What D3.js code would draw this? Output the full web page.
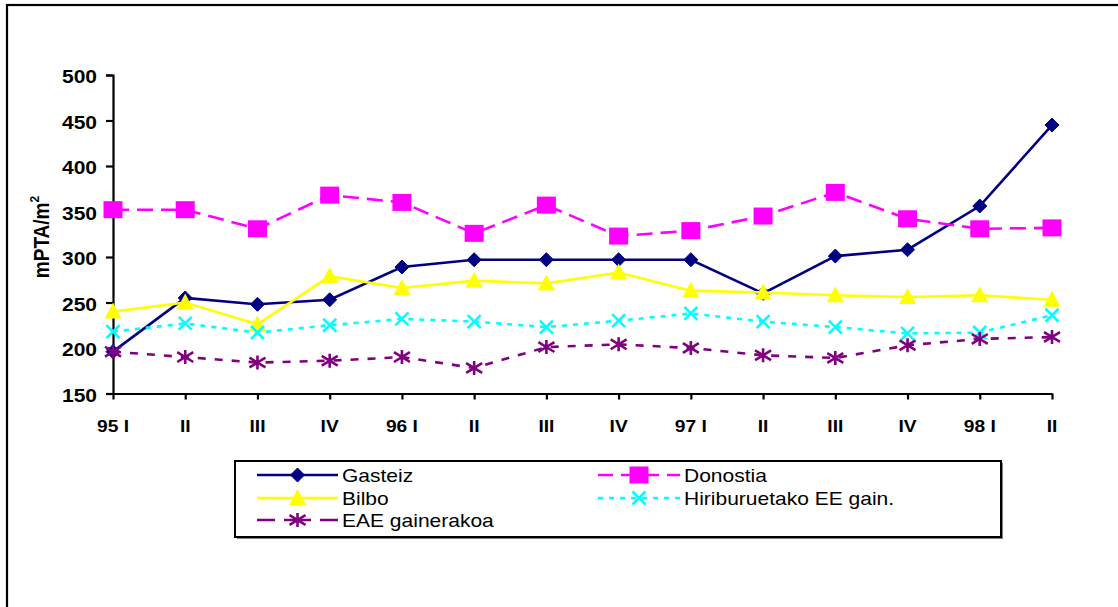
<!DOCTYPE html>
<html>
<head>
<meta charset="utf-8">
<script src="https://cdn.jsdelivr.net/npm/d3@7"></script>
<style>
  html, body { margin: 0; padding: 0; background: #fff; }
  svg { display: block; }
  text { font-family: "Liberation Sans", Arial, sans-serif; }
</style>
</head>
<body>
<svg id="chart" width="1118" height="607"></svg>
<script>
// Quarterly categories (1995 Q1 .. 1998 Q2)
const categories = ["95 I", "II", "III", "IV", "96 I", "II", "III", "IV", "97 I", "II", "III", "IV", "98 I", "II"];

// Series values, mPTA per m²
const gasteiz   = [196, 255, 248, 253, 289, 297, 297, 297, 297, 260, 301, 308, 356, 445];
const donostia  = [352, 352, 331, 368, 360, 326, 357, 323, 329, 345, 371, 342, 331, 332];
const bilbo     = [240, 250, 226, 279, 266, 274, 271, 283, 263, 261, 258, 256, 258, 253];
const hiriburu  = [218, 227, 217, 225, 232, 229, 223, 230, 238, 229, 223, 216, 217, 236];
const eaeGainer = [196, 190, 184, 186, 190, 178, 201, 204, 200, 192, 189, 203, 210, 212];

const yTicks = [150, 200, 250, 300, 350, 400, 450, 500];

const seriesList = [
  { name: "Gasteiz", values: gasteiz, color: "#000080", dash: null, legendDash: null, marker: "diamond" },
  { name: "Donostia", values: donostia, color: "#FF00FF", dash: "16,8", legendDash: "15,8", marker: "square" },
  { name: "Bilbo", values: bilbo, color: "#FFFF00", dash: null, legendDash: null, marker: "triangle" },
  { name: "Hiriburuetako EE gain.", values: hiriburu, color: "#00FFFF", dash: "5,6", legendDash: "5,6", marker: "cross" },
  { name: "EAE gainerakoa", values: eaeGainer, color: "#800080", dash: "8,9", legendDash: "18,9,27,9,18,100", marker: "asterisk" }
];

const svg = d3.select("#chart");
const SX = 1.13;   // horizontal stretch of the lettering
const FS = 18.6;

// Outer frame
svg.append("rect")
  .attr("x", 7).attr("y", 5)
  .attr("width", 1130).attr("height", 620)
  .attr("fill", "none").attr("stroke", "#000").attr("stroke-width", 2.2);

const x = d3.scalePoint().domain(d3.range(categories.length)).range([113, 1052]);
const y = d3.scaleLinear().domain([150, 500]).range([393.5, 75]);

function stretchedText(parent, tx, ty, str, opts) {
  const g = parent.append("g").attr("transform", `translate(${tx},${ty}) scale(${SX},1)`);
  const t = g.append("text")
    .attr("font-size", opts.size || FS)
    .attr("font-weight", opts.bold ? "bold" : "normal")
    .attr("text-anchor", opts.anchor || "start")
    .attr("fill", "#000")
    .text(str);
  return t;
}

// Y axis
const yAxis = svg.append("g").attr("transform", `translate(${x(0)},0)`)
  .call(d3.axisLeft(y).tickValues(yTicks).tickSize(7).tickFormat(() => ""));
yAxis.select(".domain").attr("stroke", "#000").attr("stroke-width", 2.2);
yAxis.selectAll(".tick line").attr("stroke", "#000").attr("stroke-width", 2.2);
yTicks.forEach(v => {
  stretchedText(svg, 97, y(v) + 8, String(v), { bold: true, anchor: "end" });
});

// X axis
const xAxis = svg.append("g").attr("transform", `translate(0,${y(150)})`)
  .call(d3.axisBottom(x).tickSize(6).tickSizeOuter(0).tickFormat(() => ""));
xAxis.select(".domain").attr("stroke", "#000").attr("stroke-width", 2.2);
xAxis.selectAll(".tick line").attr("stroke", "#000").attr("stroke-width", 2.2);
categories.forEach((c, i) => {
  stretchedText(svg, x(i), 432, c, { bold: true, anchor: "middle", size: 17 });
});

// Y axis title
const yt = svg.append("g").attr("transform", "translate(49,237) rotate(-90) scale(1,1.13)");
const ytText = yt.append("text").attr("text-anchor", "middle")
  .attr("font-size", 19).attr("font-weight", "bold");
ytText.append("tspan").text("mPTA/m");
ytText.append("tspan").attr("font-size", 12).attr("dy", -9).text("2");

// Marker drawing
function drawMarker(g, type, cx, cy, color) {
  if (type === "diamond") {
    const r = 7;
    g.append("path").attr("d", `M${cx},${cy - r}L${cx + r},${cy}L${cx},${cy + r}L${cx - r},${cy}Z`)
      .attr("fill", color).attr("stroke", color).attr("stroke-width", 1);
  } else if (type === "square") {
    g.append("rect").attr("x", cx - 9.5).attr("y", cy - 8.5).attr("width", 19).attr("height", 17)
      .attr("fill", color);
  } else if (type === "triangle") {
    g.append("path").attr("d", `M${cx},${cy - 9}L${cx + 8.5},${cy + 7}L${cx - 8.5},${cy + 7}Z`)
      .attr("fill", color);
  } else if (type === "cross") {
    const r = 6.5;
    g.append("path").attr("d", `M${cx - r},${cy - r}L${cx + r},${cy + r}M${cx + r},${cy - r}L${cx - r},${cy + r}`)
      .attr("stroke", color).attr("stroke-width", 2.6).attr("fill", "none");
  } else if (type === "asterisk") {
    const rx = 8, ry = 7;
    g.append("path").attr("d",
      `M${cx},${cy - ry}L${cx},${cy + ry}M${cx - rx},${cy - ry * 0.7}L${cx + rx},${cy + ry * 0.7}M${cx + rx},${cy - ry * 0.7}L${cx - rx},${cy + ry * 0.7}`)
      .attr("stroke", color).attr("stroke-width", 2.6).attr("fill", "none");
  }
}

// Lines and markers, drawn in series order
const line = d3.line().x((d, i) => x(i)).y(d => y(d));
const plot = svg.append("g");
seriesList.forEach(s => {
  const g = plot.append("g");
  g.append("path").datum(s.values).attr("d", line)
    .attr("fill", "none").attr("stroke", s.color).attr("stroke-width", 2.6)
    .attr("stroke-dasharray", s.dash);
  s.values.forEach((v, i) => drawMarker(g, s.marker, x(i), y(v), s.color));
});

// Legend
const lg = svg.append("g");
lg.append("rect").attr("x", 237).attr("y", 463).attr("width", 766).attr("height", 76).attr("fill", "#808080");
lg.append("rect").attr("x", 235).attr("y", 461).attr("width", 766).attr("height", 76)
  .attr("fill", "#fff").attr("stroke", "#000").attr("stroke-width", 2);

const legendPos = [
  { x0: 257, x1: 338, tx: 342, y: 475 },
  { x0: 598, x1: 680, tx: 684, y: 475 },
  { x0: 257, x1: 338, tx: 342, y: 498 },
  { x0: 598, x1: 680, tx: 684, y: 498 },
  { x0: 257, x1: 338, tx: 342, y: 520 }
];
seriesList.forEach((s, i) => {
  const p = legendPos[i];
  lg.append("line").attr("x1", p.x0).attr("x2", p.x1).attr("y1", p.y).attr("y2", p.y)
    .attr("stroke", s.color).attr("stroke-width", 2.6).attr("stroke-dasharray", s.legendDash);
  drawMarker(lg, s.marker, (p.x0 + p.x1) / 2, p.y, s.color);
  stretchedText(lg, p.tx, p.y + 7, s.name, {});
});
</script>
</body>
</html>
